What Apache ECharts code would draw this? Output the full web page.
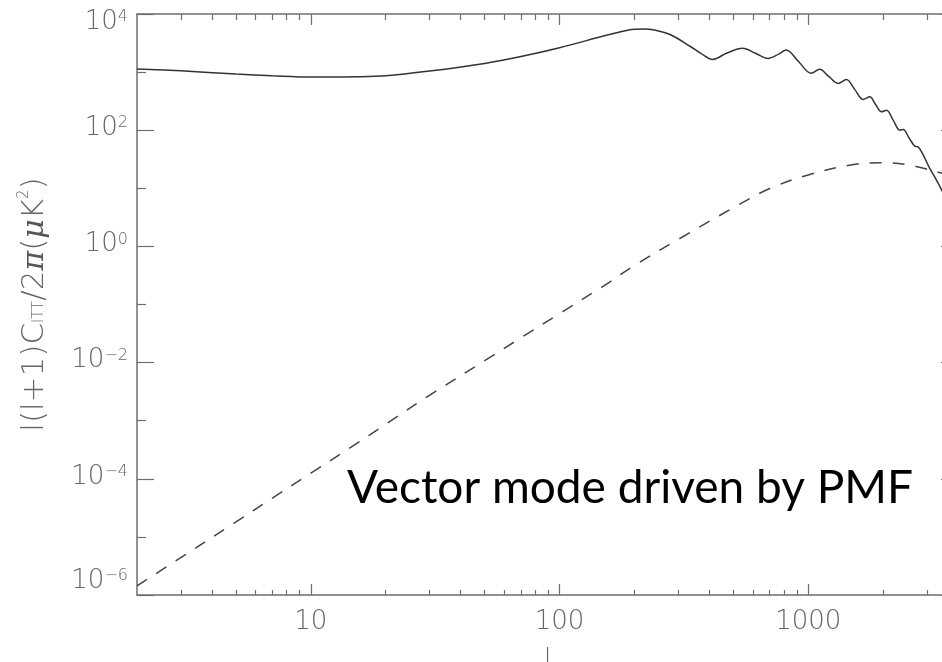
<!DOCTYPE html>
<html>
<head>
<meta charset="utf-8">
<script src="https://cdn.jsdelivr.net/npm/echarts@6/dist/echarts.min.js"></script>
<style>
html,body{margin:0;padding:0;background:#fff;}
#chart{width:942px;height:662px;}
</style>
</head>
<body>
<div id="chart"></div>
<script>
// ---- data ----
const solidL = [2,3,5,7,10,15,20,30,50,70,100,150,176,200,222,250,281,337,370,413,471,545,611,688,761,815,915,1028,1111,1209,1318,1423,1537,1662,1767,1863,1970,2064,2195,2334,2410,2541,2684,2769,3083,3281,3491,4000];
const solidV = [1130,1050,925,865,820,830,863,1040,1410,1850,2620,4170,4950,5450,5500,5100,4350,2730,2100,1655,2128,2565,2128,1722,2040,2395,1507,951,1115,843,638,748,504,338,375,279,207,221,149,100,103,73.6,53,51.5,21.9,13.7,8.1,1.9];
const dashL = [2,3,5,7,10,15,20,30,50,70,100,150,200,300,500,700,1000,1500,2000,2500,3000,3500,4000];
const dashV = [1.43e-6,4.4e-6,1.81e-5,4.65e-5,1.25e-4,3.84e-4,8.67e-4,2.74e-3,1.08e-2,2.68e-2,6.97e-2,0.207,0.47,1.32,4.63,9.9,17.0,25.4,27.5,25.6,21.3,17.8,14.8];

const xMajorTicks = [10,100,1000];
const xMinorTicks = [3,4,5,6,7,8,9,20,30,40,50,60,70,80,90,200,300,400,500,600,700,800,900,2000,3000];
const yMajorTicks = [1e-6,1e-4,1e-2,1,1e2,1e4];
const yMinorTicks = [1e-5,1e-3,1e-1,10,1e3];
const xRange = [2,4000];
const yRange = [1e-6,1e4];
const annotation = 'Vector mode driven by PMF';

// ---- chart ----
const FONT = '"DejaVu Sans", sans-serif';
const FW = 200;
const AX = '#6e6e6e';
const LBL = '#666';
const chart = echarts.init(document.getElementById('chart'), null, {renderer:'canvas'});

function pairs(xs, ys){ return xs.map((x,i)=>[x, ys[i]]); }

function xAxisDef(pos, ticks, len, showLine, showLabel){
  return {
    type:'log', logBase:10, min:xRange[0], max:xRange[1], position:pos,
    axisLine:{show:showLine, onZero:false, lineStyle:{color:AX, width:1.5}},
    axisTick:{show:true, inside:true, length:len, customValues:ticks, lineStyle:{color:AX, width:1.2}},
    axisLabel: showLabel ? {
      show:true, customValues:xMajorTicks, margin:14,
      fontFamily:FONT, fontWeight:FW, fontSize:26, color:LBL,
      formatter:(v)=>String(Math.round(v))
    } : {show:false},
    splitLine:{show:false}, minorTick:{show:false}
  };
}
function yAxisDef(pos, ticks, len, showLine, showLabel){
  const base = {fontFamily:FONT, fontWeight:FW, color:LBL};
  return {
    type:'log', logBase:10, min:yRange[0], max:yRange[1], position:pos,
    nameMoveOverlap:false,
    axisLine:{show:showLine, onZero:false, lineStyle:{color:AX, width:1.5}},
    axisTick:{show:true, inside:true, length:len, customValues:ticks, lineStyle:{color:AX, width:1.2}},
    axisLabel: showLabel ? {
      show:true, customValues:yMajorTicks, margin:9,
      formatter:(v)=>{
        const e = Math.round(Math.log10(v));
        const sup = (e<0?'\u2212':'') + Math.abs(e);
        const suf = e===4 ? 'T' : (e===-6 ? 'B' : '');
        return '{b'+suf+'|10}{s'+suf+'|'+sup+'}';
      },
      rich:{
        b:Object.assign({fontSize:26, lineHeight:30, verticalAlign:'top'}, base),
        s:Object.assign({fontSize:16, lineHeight:16, verticalAlign:'top'}, base),
        bT:Object.assign({fontSize:26, lineHeight:30, verticalAlign:'top', padding:[10,0,0,0]}, base),
        sT:Object.assign({fontSize:16, lineHeight:16, verticalAlign:'top', padding:[10,0,0,0]}, base),
        bB:Object.assign({fontSize:26, lineHeight:30, verticalAlign:'top', padding:[-12,0,0,0]}, base),
        sB:Object.assign({fontSize:16, lineHeight:16, verticalAlign:'top', padding:[-12,0,0,0]}, base)
      }
    } : {show:false},
    splitLine:{show:false}, minorTick:{show:false}
  };
}

const xAxes = [
  xAxisDef('bottom', xMajorTicks, 11, true, true),
  xAxisDef('bottom', xMinorTicks, 5, false, false),
  xAxisDef('top', xMajorTicks, 11, true, false),
  xAxisDef('top', xMinorTicks, 6, false, false)
];
xAxes[0].name = 'l';
xAxes[0].nameLocation = 'middle';
xAxes[0].nameGap = 52;
xAxes[0].nameMoveOverlap = false;
xAxes[0].nameTextStyle = {fontFamily:FONT, fontWeight:FW, fontSize:26, color:LBL};

const yAxes = [
  yAxisDef('left', yMajorTicks, 17, true, true),
  yAxisDef('left', yMinorTicks, 9, false, false),
  yAxisDef('right', yMajorTicks, 17, true, false),
  yAxisDef('right', yMinorTicks, 9, false, false)
];
const tBase = {fontFamily:FONT, fontWeight:FW, color:LBL};
yAxes[0].name = '{a|l(l+1)C}{sub|lTT}{a|/2}{g|\u03c0}{a|(}{g|\u03bc}{a|K}{sup|2}{a|)}';
yAxes[0].nameLocation = 'middle';
yAxes[0].nameRotate = 90;
yAxes[0].nameGap = 84;
yAxes[0].nameTextStyle = {
  rich:{
    a:Object.assign({fontSize:31, lineHeight:36}, tBase),
    sub:Object.assign({fontSize:15, lineHeight:17, padding:[9,0,0,0]}, tBase),
    g:{fontFamily:'"DejaVu Serif", serif', fontStyle:'italic', fontSize:30, lineHeight:36, color:'#555'},
    sup:Object.assign({fontSize:15, lineHeight:15, verticalAlign:'top'}, tBase)
  }
};

const option = {
  animation:false,
  backgroundColor:'#fff',
  grid:{left:137, top:14, right:-16, bottom:67, containLabel:false, outerBoundsMode:'none'},
  xAxis:xAxes,
  yAxis:yAxes,
  graphic:[{
    type:'text', silent:true, x:347, y:488,
    style:{text:annotation, font:'46px Lato, "Open Sans", sans-serif', fill:'#000', verticalAlign:'middle'}
  }],
  series:[
    {type:'line', xAxisIndex:0, yAxisIndex:0, data:pairs(solidL, solidV), showSymbol:false, smooth:0.35,
     lineStyle:{color:'#333', width:1.5}},
    {type:'line', xAxisIndex:0, yAxisIndex:0, data:pairs(dashL, dashV), showSymbol:false, smooth:0.35,
     lineStyle:{color:'#444', width:1.5, type:[12,11]}}
  ]
};
chart.setOption(option);
</script>
</body>
</html>
